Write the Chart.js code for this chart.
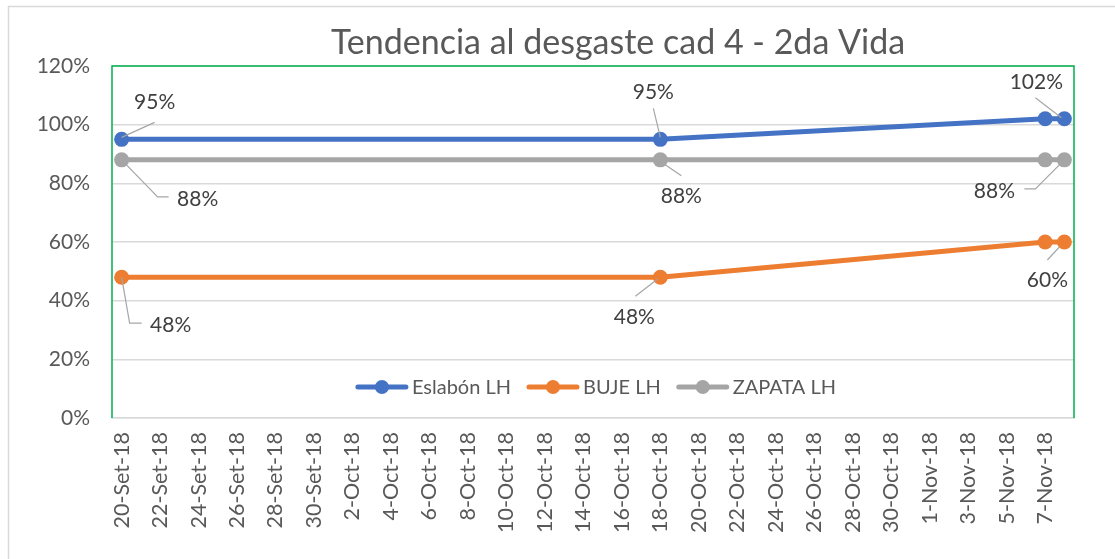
<!DOCTYPE html>
<html lang="es">
<head>
<meta charset="utf-8">
<title>Tendencia al desgaste cad 4 - 2da Vida</title>
<script src="https://cdn.jsdelivr.net/npm/chart.js@4.4.1/dist/chart.umd.min.js"></script>
<style>
  html, body { margin: 0; padding: 0; background: #ffffff; }
  canvas { display: block; }
</style>
</head>
<body>
<canvas id="grafico" width="1115" height="559"></canvas>
<script>
// Fechas de medición y porcentaje de desgaste de cada componente
const fechas = ['2018-09-20', '2018-10-18', '2018-11-07', '2018-11-08'];
const eslabonLH = [95, 95, 102, 102];
const bujeLH = [48, 48, 60, 60];
const zapataLH = [88, 88, 88, 88];

// Etiquetas del eje de fechas (cada 2 días desde el 20-Set-18)
const etiquetasFecha = [
  '20-Set-18', '22-Set-18', '24-Set-18', '26-Set-18', '28-Set-18', '30-Set-18',
  '2-Oct-18', '4-Oct-18', '6-Oct-18', '8-Oct-18', '10-Oct-18', '12-Oct-18',
  '14-Oct-18', '16-Oct-18', '18-Oct-18', '20-Oct-18', '22-Oct-18', '24-Oct-18',
  '26-Oct-18', '28-Oct-18', '30-Oct-18', '1-Nov-18', '3-Nov-18', '5-Nov-18', '7-Nov-18'
];
const etiquetasPct = ['0%', '20%', '40%', '60%', '80%', '100%', '120%'];
const titulo = 'Tendencia al desgaste cad 4 - 2da Vida';

const DIA = 86400000;
const inicio = Date.UTC(2018, 8, 20);
const dias = fechas.map(f => {
  const [a, m, d] = f.split('-').map(Number);
  return Math.round((Date.UTC(a, m - 1, d) - inicio) / DIA);
});
const puntos = serie => serie.map((v, i) => ({ x: dias[i], y: v }));

const FUENTE = 'Lato, "Open Sans", sans-serif';
const GRIS_TEXTO = '#595959';

// Posición de cada etiqueta de valor respecto a su punto, con su línea guía
const ubicacionEtiquetas = [
  [ // Eslabón LH
    { i: 0, dx: 33, dy: -37, guia: [[0, -2], [33, -17]] },
    { i: 1, dx: -7, dy: -47, guia: [[0, -2], [-7, -31]] },
    { i: 3, dx: -28, dy: -37, guia: [[-3, -1], [-29, -21]] }
  ],
  [ // BUJE LH
    { i: 0, dx: 49, dy: 48, guia: [[0, 0], [8, 46], [20, 46]] },
    { i: 1, dx: -26, dy: 40, guia: [[-3, 2], [-25, 19]] },
    { i: 3, dx: -17, dy: 38, guia: [[-5, 5], [-17, 18]] }
  ],
  [ // ZAPATA LH
    { i: 0, dx: 76, dy: 39, guia: [[0, 0], [36, 37], [47, 37]] },
    { i: 1, dx: 21, dy: 36, guia: [[2, 3], [21, 16]] },
    { i: 3, dx: -70, dy: 31, guia: [[-5, 5], [-29, 29], [-40, 29]] }
  ]
];

// Marco exterior, título, borde verde del área de trazado, etiquetas y leyenda
const decoracion = {
  id: 'decoracion',
  beforeDraw(chart) {
    const c = chart.ctx;
    c.save();
    c.fillStyle = '#ffffff';
    c.fillRect(0, 0, chart.width, chart.height);
    c.strokeStyle = '#D9D9D9';
    c.lineWidth = 1.5;
    c.strokeRect(8.5, 6.5, chart.width + 10, chart.height + 10);
    c.fillStyle = GRIS_TEXTO;
    c.font = '34px ' + FUENTE;
    c.textAlign = 'center';
    c.textBaseline = 'middle';
    c.fillText(titulo, 618, 43);
    c.restore();
  },
  beforeDatasetsDraw(chart) {
    const c = chart.ctx;
    const a = chart.chartArea;
    c.save();
    c.strokeStyle = '#00B050';
    c.lineWidth = 1.5;
    c.beginPath();
    c.moveTo(a.left, a.bottom);
    c.lineTo(a.left, a.top);
    c.lineTo(a.right, a.top);
    c.lineTo(a.right, a.bottom);
    c.stroke();
    c.restore();
  },
  afterDatasetsDraw(chart) {
    const c = chart.ctx;
    c.save();
    // Etiquetas de valor con línea guía
    ubicacionEtiquetas.forEach((lista, di) => {
      const meta = chart.getDatasetMeta(di);
      const datos = chart.data.datasets[di].data;
      lista.forEach(e => {
        const p = meta.data[e.i];
        c.strokeStyle = '#A6A6A6';
        c.lineWidth = 1.2;
        c.beginPath();
        e.guia.forEach(([gx, gy], k) => {
          if (k === 0) c.moveTo(p.x + gx, p.y + gy);
          else c.lineTo(p.x + gx, p.y + gy);
        });
        c.stroke();
        c.fillStyle = '#404040';
        c.font = '21px ' + FUENTE;
        c.textAlign = 'center';
        c.textBaseline = 'middle';
        c.fillText(datos[e.i].y + '%', p.x + e.dx, p.y + e.dy);
      });
    });
    // Leyenda dentro del área de trazado
    const a = chart.chartArea;
    const yLeyenda = 387;
    const largoLinea = 52, separacion = 4, entreItems = 16;
    c.font = '20px ' + FUENTE;
    const items = chart.data.datasets.map(d => ({
      texto: d.label, color: d.borderColor, ancho: c.measureText(d.label).width
    }));
    const total = items.reduce((s, it) => s + largoLinea + separacion + it.ancho, 0) + entreItems * (items.length - 1);
    let x = (a.left + a.right) / 2 + 3 - total / 2;
    items.forEach(it => {
      c.strokeStyle = it.color;
      c.lineWidth = 5;
      c.lineCap = 'round';
      c.beginPath();
      c.moveTo(x + 2, yLeyenda);
      c.lineTo(x + largoLinea - 2, yLeyenda);
      c.stroke();
      c.fillStyle = it.color;
      c.beginPath();
      c.arc(x + largoLinea / 2, yLeyenda, 7, 0, Math.PI * 2);
      c.fill();
      c.fillStyle = GRIS_TEXTO;
      c.textAlign = 'left';
      c.textBaseline = 'middle';
      c.fillText(it.texto, x + largoLinea + separacion, yLeyenda + 1);
      x += largoLinea + separacion + it.ancho + entreItems;
    });
    c.restore();
  }
};

const serieCfg = (etiqueta, valores, color) => ({
  label: etiqueta,
  data: puntos(valores),
  borderColor: color,
  backgroundColor: color,
  borderWidth: 5,
  pointRadius: 7.5,
  pointHoverRadius: 7.5,
  pointBorderWidth: 0,
  borderCapStyle: 'round',
  clip: false
});

new Chart(document.getElementById('grafico'), {
  type: 'line',
  data: {
    datasets: [
      serieCfg('Eslabón LH', eslabonLH, '#4472C4'),
      serieCfg('BUJE LH', bujeLH, '#ED7D31'),
      serieCfg('ZAPATA LH', zapataLH, '#A5A5A5')
    ]
  },
  options: {
    responsive: false,
    animation: false,
    layout: { padding: { left: 0, right: 41, top: 66, bottom: 0 } },
    plugins: {
      legend: { display: false },
      tooltip: { enabled: false },
      title: { display: false }
    },
    scales: {
      x: {
        type: 'linear',
        min: -0.5,
        max: 49.5,
        afterBuildTicks(scale) {
          scale.ticks = etiquetasFecha.map((_, k) => ({ value: k * 2 }));
        },
        afterFit(scale) { scale.height = 141; },
        ticks: {
          autoSkip: false,
          minRotation: 90,
          maxRotation: 90,
          padding: 14,
          color: GRIS_TEXTO,
          font: { family: FUENTE, size: 21.5 },
          callback: (v) => etiquetasFecha[Math.round(v / 2)]
        },
        grid: { display: false, drawTicks: false },
        border: { display: true, color: '#D9D9D9', width: 1.5 }
      },
      y: {
        min: 0,
        max: 120,
        afterBuildTicks(scale) {
          scale.ticks = etiquetasPct.map((_, k) => ({ value: k * 20 }));
        },
        afterFit(scale) { scale.width = 112; },
        ticks: {
          padding: 22,
          color: GRIS_TEXTO,
          font: { family: FUENTE, size: 21 },
          callback: (v) => etiquetasPct[Math.round(v / 20)]
        },
        grid: { color: '#D9D9D9', lineWidth: 1.5, drawTicks: false },
        border: { display: false }
      }
    }
  },
  plugins: [decoracion]
});
</script>
</body>
</html>
